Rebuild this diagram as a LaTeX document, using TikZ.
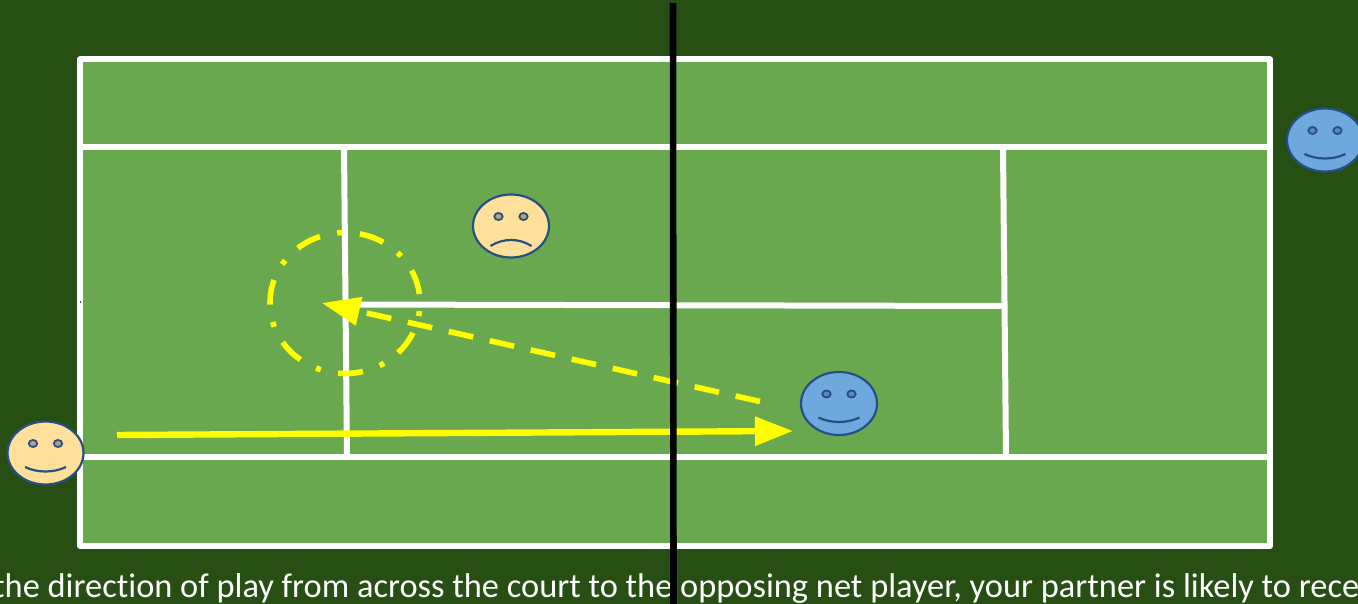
\documentclass[tikz,border=0pt]{standalone}
\usepackage{fontspec}
\setmainfont{Carlito}[Ligatures=NoCommon]
\usetikzlibrary{arrows.meta,shapes.geometric}
\definecolor{bgc}{HTML}{274E13}
\definecolor{grass}{HTML}{6AA84F}
\definecolor{facey}{HTML}{FFE09A}
\definecolor{faceb}{HTML}{6FA8DC}
\definecolor{edgec}{HTML}{264F85}
\definecolor{eyey}{HTML}{B3A47C}
\definecolor{eyeb}{HTML}{5A86B8}
\definecolor{shoty}{HTML}{FFFF00}
\tikzset{
  courtline/.style={draw=white,line width=6pt,line join=round},
  netline/.style={draw=black,line width=6.6pt},
  shot/.style={draw=shoty,line width=6.4pt,-{Triangle[length=38pt,width=28pt,fill=shoty]}},
  shotdash/.style={shot,line width=5.6pt,dash pattern=on 25pt off 17pt},
  zone/.style={draw=shoty,line width=5.6pt,ellipse,outer sep=0pt,minimum width=150pt,minimum height=141pt,inner sep=0pt,dash pattern=on 25pt off 17.7pt on 5pt off 17.7pt,dash phase=56.4pt},
  facebody/.style={draw=edgec,line width=2.2pt,ellipse,outer sep=0pt,minimum width=76pt,minimum height=63pt,inner sep=0pt},
  eye/.style={draw=edgec,line width=1.8pt,ellipse,outer sep=0pt,minimum width=8.4pt,minimum height=7pt,inner sep=0pt},
  mouth/.style={draw=edgec,line width=2.2pt},
}
\newcommand{\happyface}[4]{%
  \node[facebody,fill=#3] (#1) at (#2) {};
  \node[eye,fill=#4] (#1L) at ([shift={(-12.5,-9.5)}]#1.center) {};
  \node[eye,fill=#4] (#1R) at ([shift={(12.5,-9.5)}]#1.center) {};
  \draw[mouth] ([shift={(-20.5,14)}]#1.center) .. controls ([shift={(-8,20)}]#1.center) and ([shift={(8,20)}]#1.center) .. ([shift={(20.5,14)}]#1.center);
}
\begin{document}
\begin{tikzpicture}[x=1pt,y=-1pt]
\useasboundingbox (0,0) rectangle (1358,604);
\clip (0,0) rectangle (1358,604);
\fill[bgc] (0,0) rectangle (1358,604);
\path[fill=grass,courtline] (80,59.5) rectangle (1270,546);
\coordinate (tl) at (80,147.5); \coordinate (tr) at (1270,147.5);
\coordinate (bl) at (80,457); \coordinate (br) at (1270,457);
\coordinate (sl1) at (344,147.5); \coordinate (sl2) at (347,457);
\coordinate (sr1) at (1003,147.5); \coordinate (sr2) at (1006,457);
\coordinate (cl) at (345,304.5); \coordinate (cr) at (1004.5,306);
\draw[courtline] (tl) -- (tr);
\draw[courtline] (bl) -- (br);
\draw[courtline] (sl1) -- (sl2);
\draw[courtline] (sr1) -- (sr2);
\draw[courtline] (cl) -- (cr);
\fill[edgec] (79.6,300.5) rectangle (80.6,303);
\node[zone] (zonec) at (345,303) {};
\coordinate (s1) at (117,435); \coordinate (s2) at (793,431);
\draw[shot] (s1) -- (s2);
\coordinate (r1) at (760,401.5); \coordinate (r2) at (322,303);
\draw[shotdash] (r1) -- (r2);
\node[anchor=base west,inner sep=0pt,text=white,font=\fontsize{34.4}{37}\selectfont] (caption) at (-7,597) {the direction of play from across the court to the opposing net player, your partner is likely to rece};
\coordinate (n1) at (673,3); \coordinate (n2) at (673.5,604);
\draw[netline] (n1) -- (n2);
\happyface{server}{45.5,453}{facey}{eyey}
\happyface{netb}{839,403.5}{faceb}{eyeb}
\happyface{back}{1325,140}{faceb}{eyeb}
\node[facebody,fill=facey] (sad) at (511,226) {};
\node[eye,fill=eyey] (sadL) at ([shift={(-12.5,-9.5)}]sad.center) {};
\node[eye,fill=eyey] (sadR) at ([shift={(12.5,-9.5)}]sad.center) {};
\draw[mouth] ([shift={(-20.5,20)}]sad.center) .. controls ([shift={(-8,12)}]sad.center) and ([shift={(8,12)}]sad.center) .. ([shift={(20.5,20)}]sad.center);
\end{tikzpicture}
\end{document}
